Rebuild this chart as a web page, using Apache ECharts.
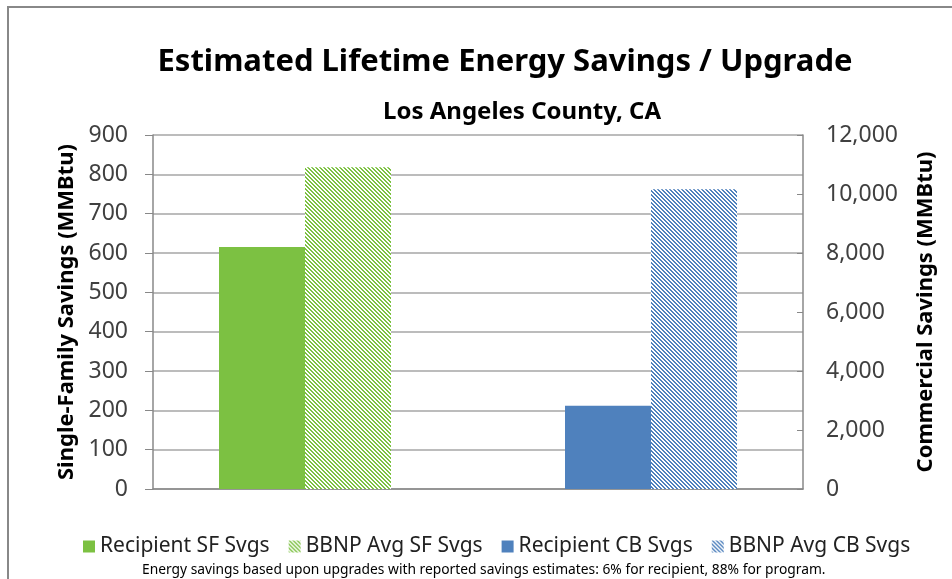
<!DOCTYPE html>
<html>
<head>
<meta charset="utf-8">
<script src="https://cdn.jsdelivr.net/npm/echarts@6/dist/echarts.min.js"></script>
<style>
  html, body { margin: 0; padding: 0; background: #fff; }
  #chart { width: 952px; height: 579px; }
</style>
</head>
<body>
<div id="chart"></div>
<script>
const categories = ["Single-Family", "Commercial"];
const recipientSF = [615, "-"];
const bbnpSF = [818, "-"];
const recipientCB = ["-", 2820];
const bbnpCB = ["-", 10160];
const spacer = ["-", "-"];

const leftMin = 0, leftMax = 900, leftStep = 100;
const rightMin = 0, rightMax = 12000, rightStep = 2000;

const green = "#7cc142";
const blue = "#4f81bd";
const font = "Noto Sans";

// small diagonal hatch tile, like the Excel pattern fill
function hatch(color) {
  const c = document.createElement("canvas");
  c.width = 4;
  c.height = 4;
  const ctx = c.getContext("2d");
  ctx.fillStyle = "#fff";
  ctx.fillRect(0, 0, 4, 4);
  ctx.fillStyle = color;
  for (let y = 0; y < 4; y++) {
    for (let x = 0; x < 4; x++) {
      const d = (((x - y) % 4) + 4) % 4;
      if (d === 0 || d === 1) ctx.fillRect(x, y, 1, 1);
    }
  }
  return { image: c, repeat: "repeat" };
}

const chart = echarts.init(document.getElementById("chart"));
const option = {
  animation: false,
  textStyle: { fontFamily: font },
  title: [
    {
      text: "Estimated Lifetime Energy Savings / Upgrade",
      left: 500,
      top: 42,
      textAlign: "center",
      textStyle: { fontSize: 31, fontWeight: "bold", color: "#000", fontFamily: font },
    },
    {
      text: "Los Angeles County, CA",
      left: 517,
      top: 95,
      textAlign: "center",
      textStyle: { fontSize: 24, fontWeight: "bold", color: "#000", fontFamily: font },
    },
  ],
  legend: {
    data: ["Recipient SF Svgs", "BBNP Avg SF Svgs", "Recipient CB Svgs", "BBNP Avg CB Svgs"],
    left: 78,
    top: 531,
    icon: "rect",
    itemWidth: 12,
    itemHeight: 12,
    itemGap: 19,
    textStyle: { fontSize: 21, color: "#222", fontFamily: font },
  },
  graphic: [
    {
      type: "rect",
      shape: { x: 8, y: 7, width: 1200, height: 1200 },
      style: { fill: "none", stroke: "#888", lineWidth: 2 },
      silent: true,
    },
    {
      type: "text",
      left: 142,
      top: 563,
      style: {
        text: "Energy savings based upon upgrades with reported savings estimates: 6% for recipient, 88% for program.",
        fontSize: 13.8,
        fontFamily: font,
        fill: "#000",
      },
    },
  ],
  grid: { left: 153, right: 149, top: 135, bottom: 90 },
  xAxis: [
    {
      type: "category",
      data: categories,
      axisLine: { lineStyle: { color: "#888", width: 1.5 } },
      axisTick: { show: false },
      axisLabel: { show: false },
    },
    {
      type: "category",
      data: categories,
      show: false,
    },
  ],
  yAxis: [
    {
      type: "value",
      min: leftMin,
      max: leftMax,
      interval: leftStep,
      name: "Single-Family Savings (MMBtu)",
      nameLocation: "middle",
      nameGap: 69,
      nameTextStyle: { fontSize: 22, fontWeight: "bold", color: "#000", fontFamily: font },
      axisLine: { show: true, lineStyle: { color: "#888", width: 1.5 } },
      axisTick: { show: true, length: 8, lineStyle: { color: "#888" } },
      axisLabel: { fontSize: 23, color: "#404040", margin: 25 },
      splitLine: { lineStyle: { color: "#a6a6a6", width: 1.5 } },
    },
    {
      type: "value",
      min: rightMin,
      max: rightMax,
      interval: rightStep,
      name: "Commercial Savings (MMBtu)",
      nameLocation: "middle",
      nameGap: 112,
      nameRotate: 90,
      nameTextStyle: { fontSize: 22, fontWeight: "bold", color: "#000", fontFamily: font },
      axisLine: { show: true, lineStyle: { color: "#888", width: 1.5 } },
      axisTick: { show: true, inside: true, length: 6, lineStyle: { color: "#888" } },
      axisLabel: {
        fontSize: 23,
        color: "#404040",
        margin: 23,
        formatter: (v) => v.toLocaleString("en-US"),
      },
      splitLine: { show: false },
    },
  ],
  series: [
    {
      name: "Recipient SF Svgs",
      type: "bar",
      xAxisIndex: 0,
      yAxisIndex: 0,
      barWidth: 86,
      barGap: 0,
      itemStyle: { color: green },
      data: recipientSF,
    },
    {
      name: "BBNP Avg SF Svgs",
      type: "bar",
      xAxisIndex: 0,
      yAxisIndex: 0,
      barWidth: 86,
      barGap: 0,
      itemStyle: { color: hatch(green) },
      data: bbnpSF,
    },
    {
      name: "sfSpacer",
      type: "bar",
      xAxisIndex: 0,
      yAxisIndex: 0,
      barWidth: 21,
      barGap: 0,
      silent: true,
      data: spacer,
    },
    {
      name: "cbSpacer",
      type: "bar",
      xAxisIndex: 1,
      yAxisIndex: 1,
      barWidth: 21,
      barGap: 0,
      silent: true,
      data: spacer,
    },
    {
      name: "Recipient CB Svgs",
      type: "bar",
      xAxisIndex: 1,
      yAxisIndex: 1,
      barWidth: 86,
      barGap: 0,
      itemStyle: { color: blue },
      data: recipientCB,
    },
    {
      name: "BBNP Avg CB Svgs",
      type: "bar",
      xAxisIndex: 1,
      yAxisIndex: 1,
      barWidth: 86,
      barGap: 0,
      itemStyle: { color: hatch(blue) },
      data: bbnpCB,
    },
  ],
};
chart.setOption(option);
</script>
</body>
</html>
